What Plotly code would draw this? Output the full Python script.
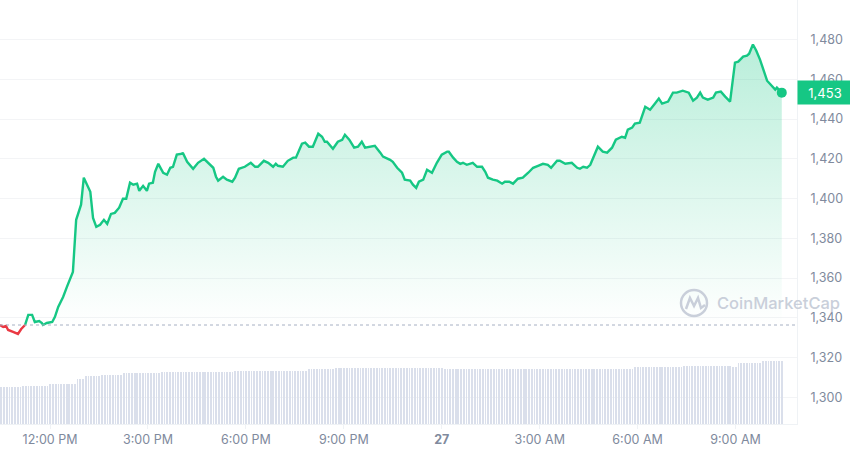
import pandas as pd
import plotly.graph_objects as go

# ---- data ----
base_time = pd.Timestamp("2023-03-26 12:00")   # 12:00 PM tick
# minutes relative to 12:00 PM
minutes = [
    -92, -86, -81, -77, -68, -59, -53, -46, -40, -33,
    -28, -20, -15, -13, -6, 4, 9, 15, 24, 31,
    39, 42, 48, 57, 62, 74, 79, 85, 92, 99,
    105, 112, 119, 127, 134, 140, 147, 153, 160, 164,
    171, 178, 182, 189, 193, 199, 208, 215, 221, 226,
    233, 243, 244, 252, 263, 272, 283, 290, 300, 305,
    309, 318, 325, 335, 340, 347, 358, 369, 377, 382,
    393, 401, 410, 415, 419, 428, 437, 447, 452, 463,
    469, 476, 483, 493, 500, 505, 509, 520, 529, 537,
    542, 550, 559, 566, 573, 579, 588, 597, 607, 612,
    625, 630, 638, 647, 652, 662, 667, 673, 678, 686,
    693, 702, 711, 720, 730, 733, 741, 748, 754, 759,
    766, 777, 785, 794, 800, 805, 814, 822, 831, 836,
    844, 851, 860, 869, 879, 888, 897, 906, 915, 921,
    932, 937, 947, 959, 969, 974, 980, 987, 993, 998,
    1007, 1016, 1024, 1033, 1040, 1051, 1057, 1062, 1070, 1075,
    1084, 1094, 1103, 1112, 1119, 1125, 1136, 1145, 1152, 1163,
    1171, 1174, 1182, 1189, 1195, 1200, 1209, 1219, 1224, 1233,
    1241, 1250, 1259, 1265, 1274, 1281, 1285, 1292, 1298, 1305,
    1318, 1327, 1333, 1336, 1345,
]
prices = [
    1336.4, 1335.4, 1335.9, 1333.9, 1332.9, 1331.9, 1334.4, 1336.4, 1341.5, 1341.5,
    1337.9, 1338.4, 1337.4, 1336.4, 1337.4, 1337.9, 1340.5, 1345.5, 1350.5, 1355.6,
    1361.6, 1363.1, 1389.3, 1396.9, 1410.5, 1403.4, 1390.3, 1385.8, 1386.8, 1389.3,
    1387.3, 1392.3, 1392.8, 1395.4, 1399.9, 1399.9, 1408.0, 1407.0, 1407.5, 1403.9,
    1406.4, 1403.9, 1407.5, 1408.0, 1413.5, 1417.5, 1413.0, 1412.0, 1415.5, 1416.0,
    1422.1, 1422.6, 1423.1, 1418.5, 1415.0, 1418.0, 1420.0, 1418.0, 1415.5, 1411.0,
    1409.0, 1411.0, 1409.5, 1408.5, 1410.5, 1415.0, 1416.0, 1418.0, 1416.0, 1416.0,
    1419.0, 1418.0, 1416.0, 1417.5, 1416.5, 1416.0, 1419.0, 1420.6, 1420.6, 1427.6,
    1428.1, 1426.1, 1426.1, 1432.6, 1431.1, 1428.6, 1428.6, 1425.1, 1428.6, 1429.6,
    1432.1, 1429.6, 1425.6, 1426.1, 1428.6, 1425.6, 1426.1, 1426.6, 1423.1, 1421.1,
    1419.5, 1418.5, 1415.5, 1413.0, 1409.5, 1409.0, 1407.0, 1405.4, 1408.5, 1409.5,
    1414.5, 1413.0, 1418.0, 1422.1, 1423.6, 1423.6, 1420.6, 1418.5, 1417.5, 1418.0,
    1417.0, 1418.0, 1416.0, 1416.0, 1413.5, 1410.5, 1409.5, 1409.0, 1407.5, 1408.5,
    1408.5, 1407.5, 1410.0, 1410.5, 1413.0, 1415.5, 1416.5, 1417.5, 1417.0, 1415.5,
    1419.0, 1419.0, 1417.5, 1418.0, 1415.5, 1415.0, 1416.0, 1415.5, 1417.0, 1420.6,
    1426.1, 1423.6, 1423.1, 1425.6, 1429.6, 1431.1, 1430.6, 1434.7, 1435.7, 1437.7,
    1438.2, 1446.2, 1444.7, 1447.8, 1450.3, 1447.8, 1448.8, 1453.3, 1453.3, 1454.3,
    1453.3, 1453.3, 1449.3, 1450.8, 1453.3, 1450.8, 1449.8, 1450.8, 1453.3, 1453.8,
    1451.3, 1448.8, 1468.4, 1468.9, 1471.4, 1471.9, 1472.9, 1477.5, 1474.5, 1469.9,
    1459.3, 1456.8, 1454.8, 1455.8, 1453.3,
]
baseline = 1336.4   # opening price (dotted line)

# volume bars (5-minute bars), run-length: level (B) and number of bars
vol_levels = [1.85, 1.90, 2.00, 2.25, 2.40, 2.45, 2.55, 2.62, 2.67, 2.73,
              2.80, 2.76, 2.85, 2.90, 2.85, 3.05, 3.13]
vol_runs = [8, 10, 10, 3, 6, 8, 14, 27, 27, 10,
            40, 70, 18, 18, 2, 9, 8]

tick_hours = [0, 3, 6, 9, 12, 15, 18, 21]
tick_labels = ["12:00 PM", "3:00 PM", "6:00 PM", "9:00 PM", "<b>27</b>",
               "3:00 AM", "6:00 AM", "9:00 AM"]

# ---- build ----
times = [base_time + pd.Timedelta(minutes=m) for m in minutes]
split = next(i for i, v in enumerate(prices) if v > baseline)

vol_values = []
for lvl, n in zip(vol_levels, vol_runs):
    vol_values += [lvl] * n
vol_start = base_time + pd.Timedelta(minutes=minutes[0])
vol_times = [vol_start + pd.Timedelta(minutes=5 * i + 2.5) for i in range(len(vol_values))]

GREEN = "#16c784"
RED = "#ea3943"

fig = go.Figure()

fig.add_trace(go.Bar(
    x=vol_times, y=vol_values, yaxis="y2",
    marker=dict(color="#dadfeb", line=dict(width=0)),
    width=85000, hoverinfo="skip", showlegend=False,
))

g_times = times[split - 1:]
g_prices = prices[split - 1:]
fig.add_trace(go.Scatter(
    x=g_times, y=[baseline] * len(g_times), mode="lines",
    line=dict(width=0, color="rgba(0,0,0,0)"), hoverinfo="skip", showlegend=False,
))
fig.add_trace(go.Scatter(
    x=g_times, y=g_prices, mode="lines", fill="tonexty",
    line=dict(color=GREEN, width=2.4),
    fillgradient=dict(type="vertical", start=baseline, stop=max(prices),
                      colorscale=[[0, "rgba(22,199,132,0.0)"],
                                  [1, "rgba(22,199,132,0.30)"]]),
    hoverinfo="skip", showlegend=False,
))
fig.add_trace(go.Scatter(
    x=times[:split], y=prices[:split], mode="lines",
    line=dict(color=RED, width=2.4), hoverinfo="skip", showlegend=False,
))
fig.add_trace(go.Scatter(
    x=[times[-1]], y=[prices[-1]], mode="markers",
    marker=dict(color=GREEN, size=10), hoverinfo="skip", showlegend=False,
))

x_start = base_time + pd.Timedelta(minutes=-92)
x_end = base_time + pd.Timedelta(minutes=1373)

fig.update_layout(
    width=850, height=453,
    margin=dict(l=0, r=53, t=0, b=29, autoexpand=False),
    paper_bgcolor="white", plot_bgcolor="white",
    font=dict(family="Inter, Roboto, sans-serif", color="#808a9d", size=12),
    showlegend=False, bargap=0,
    xaxis=dict(
        type="date", range=[x_start, x_end],
        tickvals=[base_time + pd.Timedelta(hours=h) for h in tick_hours],
        ticktext=tick_labels,
        showgrid=False, zeroline=False,
        showline=True, linecolor="#eff2f5", linewidth=1,
        ticks="outside", ticklen=4, tickcolor="#eff2f5",
        tickfont=dict(size=12.5, color="#808a9d"),
    ),
    yaxis=dict(
        side="right", range=[1286.6, 1499.9], dtick=20, tick0=1300,
        tickformat=",d", showgrid=True, gridcolor="#f3f4f6", gridwidth=1,
        zeroline=False, showline=True, linecolor="#eff2f5", linewidth=1,
        ticks="", ticklabelstandoff=10,
        tickfont=dict(size=12.5, color="#808a9d"),
    ),
    yaxis2=dict(overlaying="y", range=[0, 21.2], visible=False),
)

fig.add_hline(y=baseline, line=dict(color="#a6b0c3", width=1, dash="dot"))

# current price label
fig.add_annotation(
    x=1, xref="paper", xanchor="left", y=prices[-1], yref="y", yanchor="middle",
    text=f"{prices[-1]:,.0f}", showarrow=False,
    bgcolor=GREEN, font=dict(color="white", size=13, family="Inter"),
    width=50, height=19, borderpad=2, align="center",
)

# watermark
W, H = 797.0, 424.0
def px(x):
    return x / W
def py(y):
    return (H - y) / H

wm = "#c9cfda"
fig.add_shape(type="circle", xref="paper", yref="paper",
              x0=px(681), x1=px(707), y0=py(316), y1=py(290),
              line=dict(color=wm, width=2.5))
path_pts = [(686, 309), (690, 298), (694, 306), (698, 298), (701, 308), (705, 305)]
path = "M " + " L ".join(f"{px(a):.4f},{py(b):.4f}" for a, b in path_pts)
fig.add_shape(type="path", xref="paper", yref="paper", path=path,
              line=dict(color=wm, width=2.5))
fig.add_annotation(
    x=px(715), y=py(303), xref="paper", yref="paper", xanchor="left", yanchor="middle",
    text="CoinMarketCap", showarrow=False,
    font=dict(color=wm, size=16.5, family="Inter", weight=500),
)

fig.write_html(
    "out.html",
    config={"displayModeBar": False},
    post_script="document.body.style.margin='0';document.body.style.padding='0';"
                "document.body.style.overflow='hidden';",
)
